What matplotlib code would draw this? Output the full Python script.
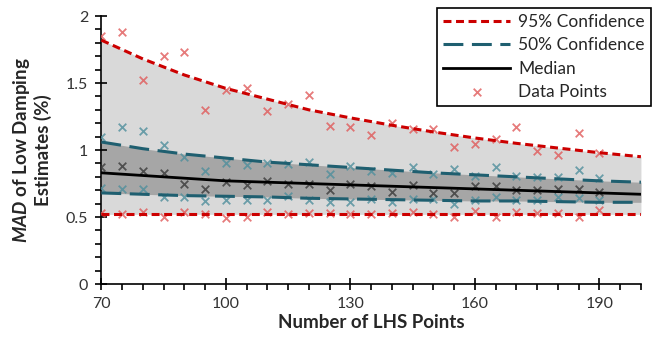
import matplotlib
matplotlib.use("Agg")
import matplotlib.pyplot as plt
import numpy as np
from matplotlib.ticker import MultipleLocator

plt.rcParams["font.family"] = ["Lato", "DejaVu Sans"]
plt.rcParams["mathtext.fontset"] = "custom"
plt.rcParams["mathtext.it"] = "Lato:italic:bold"

# sample points (number of LHS points) and percentile estimates
lhs_pts = [70, 75, 80, 85, 90, 95, 100, 105, 110, 115, 120, 125, 130,
           135, 140, 145, 150, 155, 160, 165, 170, 175, 180, 185, 190]
p975 = [1.85, 1.88, 1.52, 1.70, 1.73, 1.30, 1.45, 1.46, 1.29, 1.34, 1.41, 1.18, 1.17,
        1.11, 1.20, 1.155, 1.155, 1.025, 1.045, 1.085, 1.17, 0.99, 0.96, 1.125, 0.98]
p75 = [1.095, 1.17, 1.14, 1.04, 0.95, 0.84, 0.905, 0.89, 0.90, 0.895, 0.91, 0.82, 0.88,
       0.84, 0.83, 0.87, 0.82, 0.86, 0.81, 0.875, 0.805, 0.80, 0.80, 0.85, 0.79]
p50 = [0.875, 0.88, 0.84, 0.83, 0.75, 0.71, 0.76, 0.74, 0.77, 0.75, 0.75, 0.70, 0.75,
       0.73, 0.69, 0.74, 0.68, 0.68, 0.73, 0.735, 0.70, 0.70, 0.71, 0.71, 0.69]
p25 = [0.714, 0.71, 0.71, 0.65, 0.65, 0.62, 0.63, 0.63, 0.63, 0.66, 0.63, 0.61, 0.61,
       0.635, 0.61, 0.635, 0.635, 0.60, 0.63, 0.65, 0.63, 0.63, 0.65, 0.645, 0.627]
p025 = [0.53, 0.52, 0.54, 0.50, 0.54, 0.52, 0.49, 0.50, 0.54, 0.52, 0.53, 0.53, 0.52,
        0.52, 0.53, 0.54, 0.52, 0.50, 0.545, 0.50, 0.54, 0.53, 0.53, 0.50, 0.55]

# fitted confidence curves read at every 10 LHS points
curve_x = [70, 80, 90, 100, 110, 120, 130, 140, 150, 160, 170, 180, 190, 200]
fit_hi95 = [1.82, 1.68, 1.56, 1.46, 1.38, 1.30, 1.24, 1.185, 1.135, 1.09, 1.05, 1.015, 0.98, 0.95]
fit_hi50 = [1.06, 1.01, 0.97, 0.94, 0.91, 0.89, 0.87, 0.85, 0.83, 0.815, 0.80, 0.785, 0.77, 0.76]
fit_med = [0.83, 0.81, 0.79, 0.77, 0.76, 0.75, 0.74, 0.73, 0.72, 0.71, 0.70, 0.69, 0.68, 0.67]
fit_lo50 = [0.68, 0.67, 0.66, 0.655, 0.65, 0.64, 0.635, 0.63, 0.625, 0.62, 0.62, 0.615, 0.61, 0.61]
fit_lo95 = [0.52] * 14

RED = "#cc0000"
TEAL = "#1f5f70"

fig = plt.figure(figsize=(6.54, 3.41), dpi=100)
ax = fig.add_axes([0.155, 0.167, 0.825, 0.786])

ax.fill_between(curve_x, fit_lo95, fit_hi95, color="#d9d9d9", lw=0, zorder=1)
ax.fill_between(curve_x, fit_lo50, fit_hi50, color="#a6a6a6", lw=0, zorder=1)

mk = dict(marker="x", s=30, linewidths=1.3, zorder=3)
ax.scatter(lhs_pts, p975, color="#e05a5a", alpha=0.8, **mk)
ax.scatter(lhs_pts, p025, color="#e05a5a", alpha=0.8, **mk)
ax.scatter(lhs_pts, p75, color="#4f8f9c", alpha=0.8, **mk)
ax.scatter(lhs_pts, p25, color="#4f8f9c", alpha=0.8, **mk)
ax.scatter(lhs_pts, p50, color="#3a3a3a", alpha=0.8, **mk)

ax.plot(curve_x, fit_hi95, color=RED, lw=2.2, dashes=(2.6, 1.5), zorder=4,
        label="95% Confidence")
ax.plot(curve_x, fit_lo95, color=RED, lw=2.2, dashes=(2.6, 1.5), zorder=4)
ax.plot(curve_x, fit_hi50, color=TEAL, lw=2.2, dashes=(6.5, 2.8), zorder=4,
        label="50% Confidence")
ax.plot(curve_x, fit_lo50, color=TEAL, lw=2.2, dashes=(6.5, 2.8), zorder=4)
ax.plot(curve_x, fit_med, color="black", lw=2, zorder=5, label="Median")
ax.scatter([], [], color="#e05a5a", alpha=0.8, label="Data Points", **mk)

ax.set_xlim(70, 200)
ax.set_ylim(0, 2)
ax.set_xticks([70, 100, 130, 160, 190])
ax.set_yticks([0, 0.5, 1, 1.5, 2])
ax.set_yticklabels(["0", "0.5", "1", "1.5", "2"])
ax.xaxis.set_minor_locator(MultipleLocator(5))
ax.yaxis.set_minor_locator(MultipleLocator(0.1))
ax.tick_params(which="major", direction="inout", length=9, width=1.2,
               labelsize=11.5, colors="black", labelcolor="#333333", pad=5)
ax.tick_params(which="minor", direction="out", length=4, width=1.2, colors="black")
for s in ("top", "right"):
    ax.spines[s].set_visible(False)
for s in ("left", "bottom"):
    ax.spines[s].set_linewidth(1.2)

ax.set_xlabel("Number of LHS Points", fontsize=13.5, fontweight="bold",
              color="#262626", labelpad=2)
ax.set_ylabel("$\\mathit{MAD}$ of Low Damping\nEstimates (%)", fontsize=13.5,
              fontweight="bold", color="#262626", labelpad=10, linespacing=1.15)

leg = ax.legend(loc="upper right", bbox_to_anchor=(651 / 654, 1 - 8 / 341),
                bbox_transform=fig.transFigure, fontsize=12.5, frameon=True,
                fancybox=False, handlelength=3.9, labelspacing=0.42,
                borderpad=0.35, handletextpad=0.45, borderaxespad=0)
leg.get_frame().set_edgecolor("black")
leg.get_frame().set_linewidth(1.2)
leg.get_frame().set_alpha(1)
for t in leg.get_texts():
    t.set_color("#262626")

fig.savefig("out.png", dpi=100)
